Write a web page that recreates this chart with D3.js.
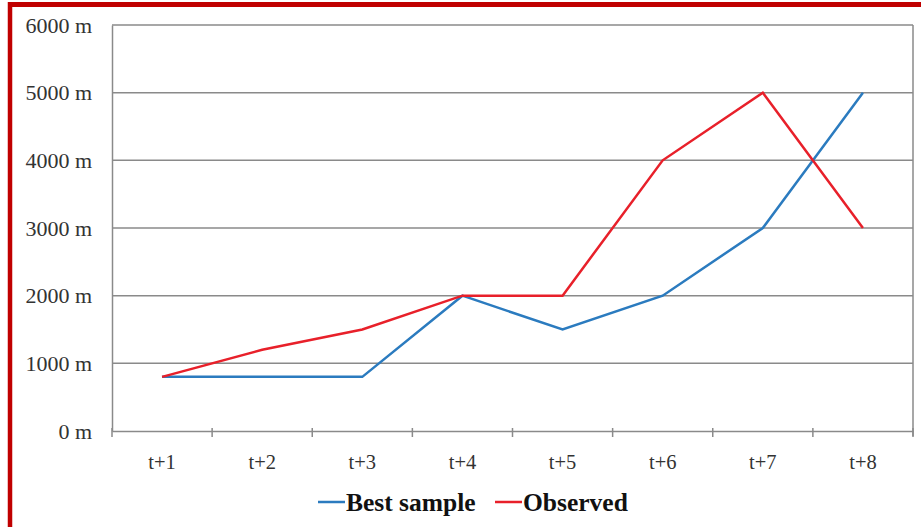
<!DOCTYPE html>
<html><head><meta charset="utf-8">
<script src="https://cdn.jsdelivr.net/npm/d3@7"></script>
<style>html,body{margin:0;padding:0;background:#fff;}svg{display:block;}</style>
</head><body>
<script>
const categories = ["t+1","t+2","t+3","t+4","t+5","t+6","t+7","t+8"];
const bestSample = [800,800,800,2000,1500,2000,3000,5000];
const observed = [800,1200,1500,2000,2000,4000,5000,3000];
const yTicks = [0,1000,2000,3000,4000,5000,6000];
const seriesNames = ["Best sample","Observed"];
const seriesColors = ["#2b7bbf","#e8202a"];

const W = 921, H = 527;
const m = {left:112, right:8, top:25, bottom:96};
const svg = d3.select("body").append("svg").attr("width",W).attr("height",H);

// red frame
svg.append("line").attr("x1",8).attr("x2",W).attr("y1",4.5).attr("y2",4.5).attr("stroke","#c00000").attr("stroke-width",5);
svg.append("line").attr("x1",10).attr("x2",10).attr("y1",2).attr("y2",H).attr("stroke","#c00000").attr("stroke-width",4.5);

const x = d3.scaleBand().domain(categories).range([m.left, W-m.right]);
const y = d3.scaleLinear().domain([0,6000]).range([H-m.bottom, m.top]);
const grey = "#8a8a8a";

// gridlines
svg.append("g").selectAll("line").data(yTicks.filter(d=>d>0)).join("line")
  .attr("x1",m.left).attr("x2",W-m.right).attr("y1",d=>y(d)).attr("y2",d=>y(d))
  .attr("stroke",grey).attr("stroke-width",1.5);
// right border
svg.append("line").attr("x1",W-m.right).attr("x2",W-m.right).attr("y1",m.top).attr("y2",y(0)+5).attr("stroke",grey).attr("stroke-width",1.5);

// y axis
const yAxis = svg.append("g").attr("transform",`translate(${m.left},0)`)
  .call(d3.axisLeft(y).tickValues(yTicks).tickSize(0).tickPadding(20).tickFormat(d=>d+" m"));
yAxis.select(".domain").attr("stroke",grey).attr("stroke-width",1.5);
yAxis.selectAll("text").attr("font-family","'Liberation Serif','Times New Roman',serif").attr("font-size",22).attr("fill","#333");

// x axis
const xAxis = svg.append("g").attr("transform",`translate(0,${y(0)})`)
  .call(d3.axisBottom(x).tickSize(0).tickPadding(23));
xAxis.select(".domain").attr("stroke",grey).attr("stroke-width",1.5);
xAxis.selectAll("text").attr("font-family","'Liberation Serif','Times New Roman',serif").attr("font-size",20.5).attr("fill","#333");
// band boundary ticks
const bounds = categories.map(c=>x(c)).concat([x(categories[categories.length-1])+x.bandwidth()]);
svg.append("g").selectAll("line").data(bounds).join("line")
  .attr("x1",d=>d).attr("x2",d=>d).attr("y1",y(0)-3).attr("y2",y(0)+6)
  .attr("stroke",grey).attr("stroke-width",1.5);

// lines
const line = d3.line().x((d,i)=>x(categories[i])+x.bandwidth()/2).y(d=>y(d));
[bestSample, observed].forEach((s,i)=>{
  svg.append("path").datum(s).attr("d",line).attr("fill","none")
    .attr("stroke",seriesColors[i]).attr("stroke-width",2.5).attr("stroke-linejoin","miter");
});

// legend
const legX = [318, 495];
const leg = svg.append("g");
seriesNames.forEach((n,i)=>{
  leg.append("line").attr("x1",legX[i]).attr("x2",legX[i]+27).attr("y1",502).attr("y2",502)
    .attr("stroke",seriesColors[i]).attr("stroke-width",2.5);
  leg.append("text").attr("x",legX[i]+28).attr("y",511).text(n)
    .attr("font-family","'Liberation Serif','Times New Roman',serif").attr("font-weight","bold")
    .attr("font-size",25.5).attr("fill","#111");
});
</script>
</body></html>
